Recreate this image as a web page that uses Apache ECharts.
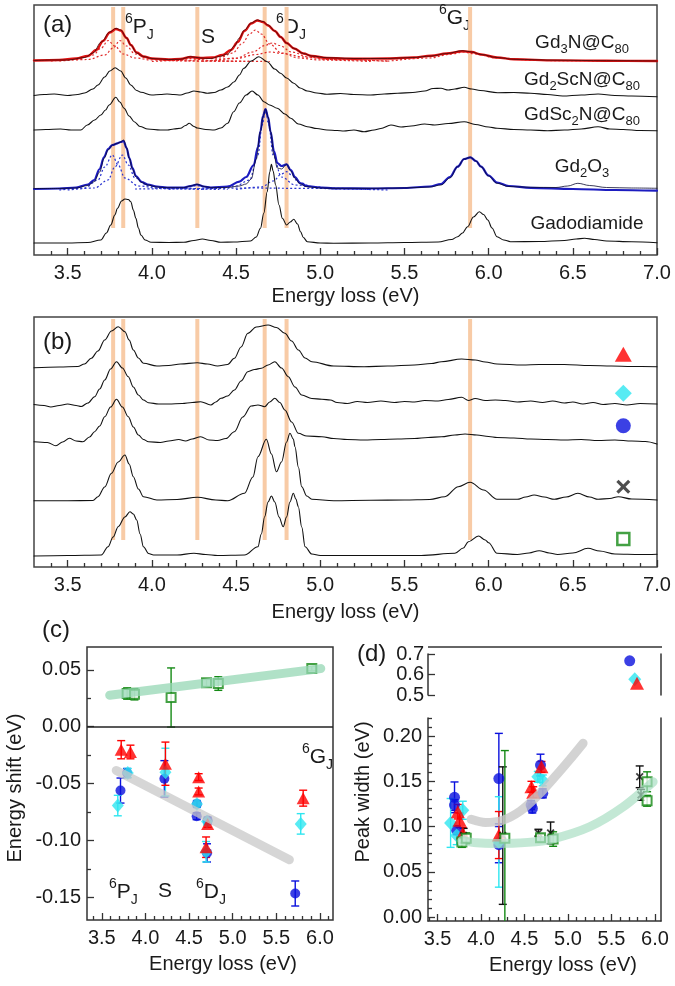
<!DOCTYPE html>
<html><head><meta charset="utf-8">
<script src="https://cdn.jsdelivr.net/npm/echarts@6/dist/echarts.min.js"></script>
<style>html,body{margin:0;padding:0;background:#fff}#c{width:675px;height:986px}</style>
</head><body><div id="c"></div>
<script>
// ---------- DATA ----------
const transitionE = [3.77, 3.83, 4.27, 4.67, 4.80, 5.89];
const transitionSpan = [27, 248];

// Panel (a) spectra: [energy (eV), intensity (arb. units incl. offset)]
const a_Gd3N = [[3.30,194.5],[3.42,195],[3.50,195],[3.60,197.5],[3.65,202],[3.70,213],[3.75,223],[3.787,226.7],[3.815,225],[3.85,217],[3.875,210],[3.91,202],[3.95,198.5],[4.0,196.5],[4.1,195.5],[4.17,195.8],[4.23,198.3],[4.29,197],[4.35,196.5],[4.40,198.5],[4.45,201],[4.49,209],[4.52,217],[4.55,225],[4.59,232],[4.626,235],[4.66,233.5],[4.69,230],[4.73,224],[4.765,218],[4.80,212],[4.845,206.5],[4.90,201.5],[4.95,199],[5.04,197.3],[5.2,196.5],[5.4,196.5],[5.55,197.5],[5.66,199],[5.75,201.5],[5.846,204.3],[5.9,203],[5.955,200.5],[6.05,197.5],[6.15,195.7],[6.4,194.8],[6.7,194.3],[7.0,194]];
const a_Gd3N_fit = [[3.30,194.5],[3.45,195],[3.55,196.5],[3.62,199],[3.67,205],[3.71,214],[3.75,222.5],[3.787,226],[3.815,224.5],[3.85,217],[3.875,210],[3.91,202.5],[3.95,198.5],[4.0,196.5],[4.1,195.5],[4.17,196],[4.23,198],[4.29,197],[4.36,197.5],[4.42,200],[4.47,205],[4.51,213],[4.55,224],[4.59,231.5],[4.626,234.5],[4.66,233],[4.69,229.5],[4.73,224],[4.765,218],[4.80,212],[4.845,206.5],[4.90,201.5],[4.95,199],[5.04,197],[5.2,196.3],[5.4,196.5],[5.55,197.5],[5.66,199.2],[5.75,201.5],[5.846,203.8],[5.9,203],[5.955,200.5],[6.05,197.5],[6.15,195.7],[6.4,194.6],[6.7,194.2],[7.0,194]];
const a_Gd3N_c1 = [[3.40,194],[3.55,195.5],[3.65,200],[3.70,207],[3.74,214.5],[3.78,209],[3.83,201],[3.90,197],[4.0,195],[4.2,194],[4.6,193.5]];
const a_Gd3N_c2 = [[3.45,194],[3.62,195.5],[3.72,200],[3.77,207],[3.81,214.5],[3.85,209],[3.90,201],[3.97,197],[4.07,195],[4.3,194],[4.7,193.5]];
const a_Gd3N_c3 = [[4.0,193.5],[4.15,194.5],[4.24,196.5],[4.33,194.5],[4.5,193.5]];
const a_Gd3N_c4 = [[4.2,194],[4.4,197],[4.48,202],[4.54,212],[4.58,221],[4.615,225],[4.65,221],[4.70,211],[4.77,202],[4.87,197],[5.0,195],[5.3,193.5]];
const a_Gd3N_c5 = [[4.35,194],[4.5,197],[4.6,203],[4.67,209.5],[4.715,212],[4.76,209.5],[4.83,203],[4.93,198],[5.05,195.5],[5.4,194]];
const a_Gd3N_c6 = [[4.3,193.5],[4.5,196.5],[4.62,200.5],[4.70,203],[4.78,201.5],[4.9,198],[5.05,195.5],[5.4,193.8]];
const a_Gd3N_c7 = [[5.4,193.8],[5.65,197],[5.78,201],[5.85,203],[5.92,201],[6.05,197],[6.3,194.5],[7.0,193.5]];
const a_Gd2ScN = [[3.30,159.5],[3.36,160.5],[3.42,161],[3.50,159.5],[3.56,160.5],[3.60,162],[3.65,166],[3.68,170],[3.72,178],[3.75,184],[3.782,187.3],[3.815,184],[3.845,177],[3.875,170],[3.91,164.5],[3.935,162.7],[4.0,160],[4.05,160.5],[4.09,161],[4.13,160.5],[4.17,160],[4.21,162],[4.25,164],[4.29,163],[4.33,161.7],[4.37,162.5],[4.41,165],[4.45,168],[4.49,173.3],[4.52,180],[4.546,186.7],[4.59,194],[4.635,198.3],[4.685,193.3],[4.73,186],[4.764,181.7],[4.80,177],[4.843,171.7],[4.88,167],[4.923,164],[4.98,162],[5.04,160.7],[5.12,161.5],[5.2,160.5],[5.3,160],[5.38,161],[5.46,161.7],[5.55,162.5],[5.62,164],[5.67,166.5],[5.717,166.7],[5.76,165],[5.80,166],[5.855,167.7],[5.9,166],[5.95,164.5],[6.054,162.3],[6.15,162.5],[6.25,161.7],[6.35,160.5],[6.44,159],[6.55,160],[6.65,161],[6.75,159.5],[6.85,159],[7.0,158.3]];
const a_GdSc2N = [[3.30,125],[3.37,125.5],[3.458,126],[3.52,125],[3.578,125],[3.617,130],[3.66,135],[3.697,140],[3.725,145],[3.746,150],[3.786,157.7],[3.81,153],[3.835,146.7],[3.865,139],[3.895,133.3],[3.93,128.5],[3.975,126],[4.05,125],[4.093,125],[4.13,126],[4.17,126.7],[4.20,129.5],[4.222,131.7],[4.25,128.5],[4.27,127],[4.32,125.5],[4.37,125],[4.41,127],[4.45,131.7],[4.486,143.3],[4.52,152],[4.56,160],[4.595,164],[4.63,160],[4.665,153.3],[4.70,150],[4.745,146.7],[4.79,141],[4.825,136.7],[4.87,131],[4.923,128.3],[4.98,126.5],[5.04,125],[5.10,124.5],[5.14,124],[5.20,125],[5.26,123.3],[5.32,125],[5.36,126.5],[5.42,130],[5.48,128],[5.54,129],[5.62,131],[5.68,130],[5.76,131.5],[5.855,133.3],[5.92,130.5],[6.0,128],[6.05,126.7],[6.15,125.5],[6.25,125],[6.35,124.3],[6.45,125],[6.55,126],[6.65,128.3],[6.72,126],[6.8,125.5],[6.9,124.5],[7.0,124.3]];
const a_Gd2O3 = [[3.30,66.5],[3.45,66.5],[3.55,67],[3.62,69.5],[3.657,73.3],[3.69,83],[3.716,96.7],[3.74,105],[3.766,110],[3.796,111.7],[3.815,113],[3.832,115],[3.85,107],[3.866,96.7],[3.885,86],[3.905,78.3],[3.94,72.5],[3.975,70],[4.03,68],[4.09,67.3],[4.19,67.3],[4.23,69],[4.268,70.7],[4.31,68.5],[4.35,67.3],[4.45,67.5],[4.52,69],[4.56,71],[4.59,76],[4.62,96],[4.645,123.3],[4.66,138],[4.675,146],[4.69,138],[4.705,123.3],[4.725,100],[4.745,87],[4.77,86],[4.80,90.7],[4.825,84],[4.85,76.7],[4.88,71],[4.92,68.3],[5.0,67],[5.08,66.7],[5.3,66.7],[5.5,67],[5.65,68],[5.717,70],[5.77,77],[5.816,88.3],[5.855,96],[5.891,97.7],[5.925,94],[5.955,88.3],[6.0,79],[6.05,71.7],[6.12,68.5],[6.25,67.7],[6.40,67.5],[6.47,69],[6.53,71.7],[6.60,69.5],[6.70,67.5],[6.85,67],[7.0,66.7]];
const a_Gd2O3_fit = [[3.30,66],[3.45,66.5],[3.55,67.5],[3.62,70.5],[3.657,75],[3.69,86],[3.716,98],[3.74,106],[3.766,110],[3.796,111.7],[3.815,113],[3.832,114],[3.85,107],[3.866,97],[3.885,87],[3.905,79],[3.94,73],[3.975,70.5],[4.03,68.5],[4.09,67.5],[4.19,67.5],[4.23,69],[4.268,70.5],[4.31,68.5],[4.35,67.5],[4.45,68.5],[4.52,73.3],[4.56,78],[4.605,90],[4.63,108],[4.645,124],[4.66,139],[4.675,146],[4.69,138],[4.705,123.3],[4.725,104],[4.745,92],[4.77,89],[4.80,90.7],[4.825,85],[4.85,78],[4.88,72],[4.92,69],[5.0,67.5],[5.08,66.7],[5.3,66.5],[5.5,67],[5.65,68.5],[5.717,71],[5.77,78],[5.816,88.3],[5.855,96],[5.891,97.7],[5.925,94],[5.955,88.3],[6.0,79.5],[6.05,72.5],[6.12,69],[6.25,67.2],[6.5,66],[6.75,65],[7.0,64.3]];
const a_Gd2O3_c1 = [[3.45,65],[3.6,67],[3.68,75],[3.72,88],[3.765,100],[3.80,90],[3.84,77],[3.92,69],[4.05,66.5],[4.3,65.5]];
const a_Gd2O3_c2 = [[3.5,65],[3.66,67],[3.74,75],[3.78,88],[3.825,100],[3.86,90],[3.90,77],[3.98,69],[4.1,66.5],[4.4,65.5]];
const a_Gd2O3_c3 = [[4.1,65.5],[4.2,67],[4.268,69.5],[4.33,67],[4.45,65.5]];
const a_Gd2O3_c4 = [[4.3,65.5],[4.5,69],[4.58,75],[4.63,100],[4.655,130],[4.675,144],[4.695,130],[4.72,100],[4.77,78],[4.85,70],[5.0,67],[5.3,65.5]];
const a_Gd2O3_c5 = [[4.5,65.5],[4.65,68],[4.72,74],[4.77,81],[4.80,83.3],[4.83,80],[4.87,73],[4.95,68.5],[5.1,66],[5.4,65]];
const a_Gd2O3_c6 = [[3.9,66],[4.3,66.5],[4.6,67],[4.9,66.6],[5.12,66.3]];
const a_Gadodiamide = [[3.30,12],[3.50,12],[3.62,12.5],[3.697,15],[3.73,22],[3.756,30],[3.78,40],[3.796,46.7],[3.82,54],[3.84,56],[3.86,55.5],[3.875,53.3],[3.89,45],[3.905,36.7],[3.92,27],[3.935,20],[3.96,15],[3.995,12.7],[4.1,12.5],[4.19,12.7],[4.25,14.5],[4.30,16],[4.35,14.5],[4.41,12.7],[4.486,13],[4.586,14],[4.62,18],[4.645,26.7],[4.665,42],[4.685,63.3],[4.70,83],[4.71,90.7],[4.72,84],[4.735,70],[4.755,50],[4.775,36.7],[4.80,30],[4.822,33],[4.843,35.7],[4.865,31],[4.883,23.3],[4.90,17.5],[4.923,13.3],[5.0,12],[5.08,11.7],[5.3,12],[5.5,12.5],[5.7,13],[5.78,15.5],[5.816,18.3],[5.845,22],[5.875,28.3],[5.91,38],[5.945,43.3],[5.97,40.5],[5.995,35],[6.02,27],[6.05,18.3],[6.09,15],[6.13,13.3],[6.3,13.5],[6.45,14.5],[6.52,16],[6.57,16.7],[6.63,15.5],[6.7,14],[6.85,13.3],[7.0,12.3]];

// Panel (b) spectra
const b_tri = [[3.30,199.3],[3.45,200],[3.56,200.5],[3.60,203],[3.64,208.7],[3.68,216],[3.72,227],[3.76,236],[3.80,240.3],[3.84,235.3],[3.865,227],[3.89,217],[3.92,209],[3.95,203.7],[4.03,201],[4.10,201.5],[4.17,203],[4.27,204.3],[4.33,203],[4.39,201],[4.45,202.5],[4.49,208.7],[4.53,220],[4.57,233.7],[4.62,240],[4.69,242],[4.74,239.5],[4.79,233.7],[4.83,226],[4.87,217],[4.91,209],[4.95,205.3],[5.08,201],[5.26,200.3],[5.4,201],[5.56,202],[5.66,203.5],[5.72,205.3],[5.84,208],[5.92,207],[5.98,205],[6.05,203],[6.2,202],[6.3,202.5],[6.45,202.5],[6.6,201.5],[6.73,201],[6.85,200.5],[7.0,200.3]];
const b_dia = [[3.30,162.5],[3.36,161.5],[3.40,160],[3.45,161.5],[3.50,163],[3.55,161.5],[3.58,160.5],[3.62,164],[3.66,170.3],[3.69,178],[3.72,187],[3.755,198],[3.79,205.3],[3.825,199],[3.86,190.3],[3.89,180],[3.92,172],[3.95,167],[3.98,164.3],[4.04,163],[4.10,163],[4.18,163.5],[4.24,164.5],[4.29,165.3],[4.35,162],[4.38,165],[4.41,168.7],[4.45,171],[4.49,177],[4.53,186],[4.57,195.3],[4.61,197.5],[4.65,198.7],[4.69,202],[4.73,205.3],[4.77,199],[4.81,190.3],[4.85,180],[4.89,172],[4.95,168.5],[5.01,167.7],[5.06,167],[5.10,164.5],[5.16,163.5],[5.22,165.5],[5.28,164.5],[5.36,166],[5.44,164.5],[5.5,165.5],[5.56,165],[5.62,166.5],[5.7,166],[5.76,167.5],[5.84,169.7],[5.88,166.5],[5.92,168.5],[5.98,166.5],[6.04,167],[6.1,166.5],[6.17,165],[6.25,166],[6.32,164.5],[6.38,166],[6.45,164],[6.5,165],[6.56,163],[6.62,164.5],[6.68,162.5],[6.75,163.5],[6.82,162],[6.9,163.5],[7.0,163]];
const b_cir = [[3.30,125.3],[3.38,124.5],[3.43,121.3],[3.47,125],[3.51,128.7],[3.55,126],[3.59,125.3],[3.63,130],[3.66,135.3],[3.69,141],[3.72,150.3],[3.755,160],[3.79,167.7],[3.825,160],[3.86,150.3],[3.89,140],[3.92,132],[3.95,127.5],[3.98,125.3],[4.05,124.5],[4.1,126],[4.16,127.5],[4.2,126],[4.24,128],[4.29,130.3],[4.34,127],[4.39,126.5],[4.44,128.5],[4.49,135.3],[4.54,150],[4.59,161],[4.63,162],[4.67,160.3],[4.70,165],[4.73,168.7],[4.76,164.5],[4.79,157],[4.83,145],[4.87,133.7],[4.92,131],[5.01,130.3],[5.08,128.5],[5.16,127.5],[5.26,127],[5.36,127.5],[5.46,128],[5.56,128.5],[5.64,129.5],[5.72,130.3],[5.80,132],[5.86,133],[5.93,132],[6.0,130.5],[6.05,129.5],[6.15,129],[6.25,128],[6.35,127.5],[6.45,127],[6.55,127.5],[6.65,126.5],[6.75,127],[6.85,126],[6.93,125.5],[7.0,123]];
const b_x = [[3.30,66.3],[3.50,66.3],[3.65,66.5],[3.68,70.3],[3.72,80],[3.76,93.7],[3.80,105],[3.84,112],[3.865,103],[3.89,90.3],[3.92,78],[3.95,70.3],[4.03,67],[4.15,67.5],[4.27,69.7],[4.38,67],[4.45,66.3],[4.55,73.7],[4.60,90],[4.63,110.3],[4.68,127.7],[4.71,113],[4.74,95.3],[4.77,105],[4.80,125],[4.82,133.7],[4.84,128],[4.85,120.3],[4.87,100],[4.89,80.3],[4.92,71],[4.95,67.7],[5.08,66.3],[5.3,66.7],[5.5,67],[5.65,67.5],[5.74,70.3],[5.82,80.3],[5.89,84.7],[5.97,77],[6.05,67.7],[6.17,67.7],[6.22,70],[6.27,72],[6.33,70],[6.39,67.7],[6.46,70],[6.53,73.7],[6.6,70],[6.65,67.7],[6.72,68.5],[6.77,70.3],[6.85,68],[7.0,67]];
const b_sq = [[3.30,11],[3.50,11.5],[3.70,12],[3.74,20.3],[3.77,30],[3.80,40.3],[3.84,50],[3.87,55.3],[3.89,53],[3.91,47],[3.93,33],[3.95,20.3],[3.98,13.5],[4.01,12],[4.15,12],[4.25,13.7],[4.32,12.5],[4.39,11.5],[4.55,12],[4.63,20.3],[4.65,33],[4.67,50.3],[4.69,65],[4.71,71],[4.73,65],[4.755,50],[4.78,40.3],[4.80,50],[4.82,65],[4.84,73.7],[4.855,68],[4.87,60.3],[4.89,40],[4.91,20.3],[4.95,13],[5.0,11.5],[5.3,11.5],[5.6,11.5],[5.8,13.7],[5.85,19],[5.88,25.3],[5.94,31],[5.98,27],[6.0,24.3],[6.05,13.7],[6.17,12.5],[6.24,14],[6.30,16.3],[6.36,14],[6.41,12.5],[6.5,14],[6.59,18.7],[6.66,16],[6.75,13],[6.9,12.5],[7.0,12.8]];
const keyE = 6.8;
const keyLevels = [212.7, 173.7, 141.3, 80.3, 28];

// Panel (c) energy shift
const c_triE = [3.722, 3.828, 4.229, 4.61, 4.61, 4.713, 4.695, 5.808];
const c_triV = [-0.0203, -0.0223, -0.0326, -0.0444, -0.057, -0.0855, -0.106, -0.0629];
const c_triErr = [0.008, 0.006, 0.019, 0.003, 0.003, 0.003, 0.009, 0.007];
const c_diaE = [3.683, 3.797, 4.229, 4.59, 4.706, 4.695, 5.78];
const c_diaV = [-0.0694, -0.0408, -0.040, -0.068, -0.0835, -0.11, -0.0855];
const c_diaErr = [0.009, 0.004, 0.021, 0.003, 0.003, 0.009, 0.009];
const c_cirE = [3.714, 3.79, 4.217, 4.587, 4.59, 4.713, 4.706, 5.717];
const c_cirV = [-0.0562, -0.0408, -0.0459, -0.0788, -0.068, -0.0826, -0.111, -0.1467];
const c_cirErr = [0.011, 0.004, 0.016, 0.003, 0.003, 0.003, 0.008, 0.011];
const c_sqE = [3.79, 3.874, 4.294, 4.70, 4.835, 5.907];
const c_sqV = [0.0291, 0.0285, 0.0256, 0.0385, 0.0379, 0.0511];
const c_sqErr = [0.005, 0.005, 0.026, 0.003, 0.006, 0.002];
const c_greenTrend = [[3.59, 0.0276], [6.01, 0.051]];
const c_greyTrend = [[3.665, -0.0385], [5.65, -0.117]];

// Panel (d) peak width
const d_cirE = [3.695, 3.695, 3.72, 4.205, 4.205, 4.576, 4.59, 4.684, 4.71];
const d_cirV = [0.1323, 0.1238, 0.096, 0.153, 0.080, 0.1238, 0.120, 0.168, 0.1367];
const d_cirErr = [0.017, 0.006, 0.005, 0.05, 0.02, 0.005, 0.005, 0.012, 0.005];
const d_diaE = [3.65, 3.79, 3.72, 4.205, 4.653, 4.71];
const d_diaV = [0.104, 0.118, 0.09, 0.083, 0.155, 0.151];
const d_diaErr = [0.027, 0.01, 0.01, 0.05, 0.006, 0.006];
const d_triE = [3.733, 3.753, 3.79, 4.205, 4.58, 4.60, 4.695];
const d_triV = [0.1164, 0.107, 0.093, 0.0906, 0.144, 0.138, 0.166];
const d_triErr = [0.008, 0.008, 0.006, 0.026, 0.006, 0.006, 0.006];
const d_xE = [3.80, 4.25, 4.66, 4.80, 5.825, 5.84];
const d_xV = [0.09, 0.09, 0.093, 0.093, 0.155, 0.135];
const d_xErr = [0.008, 0.076, 0.004, 0.012, 0.012, 0.006];
const d_sqE = [3.78, 3.83, 4.274, 4.684, 4.829, 5.91, 5.91];
const d_sqV = [0.083, 0.087, 0.087, 0.0876, 0.0862, 0.1495, 0.1285];
const d_sqErr = [0.006, 0.006, 0.097, 0.004, 0.008, 0.011, 0.006];
const d_upperE = [5.71, 5.768, 5.794];   // circle, diamond, triangle
const d_upperV = [0.667, 0.577, 0.557];
const d_greyTrend = [[3.886,0.108],[4.05,0.1045],[4.25,0.107],[4.45,0.117],[4.65,0.134],[4.85,0.155],[5.02,0.174],[5.174,0.192]];
const d_greenTrend = [[3.78,0.0845],[3.95,0.082],[4.155,0.0812],[4.54,0.0825],[4.83,0.0865],[5.25,0.0998],[5.63,0.1215],[5.98,0.1495]];

// Tick labels
const ticksAB = [3.5,4.0,4.5,5.0,5.5,6.0,6.5,7.0];
const ticksCD_x = [3.5,4.0,4.5,5.0,5.5,6.0];
const ticksC_y = [-0.15,-0.10,-0.05,0.00,0.05];
const ticksD_y = [0.00,0.05,0.10,0.15,0.20];
const ticksD_yUp = [0.5,0.6,0.7];

// ---------- STYLE / HELPERS ----------
const FONT = 'Liberation Sans, Arial, Helvetica, sans-serif';
const AX = '#333';
const TXT = '#1a1a1a';
const ORANGE = '#f8cba6';
const RED = '#ff0000', CYAN = '#2ee6f0', BLUE = '#0a10dd', GREEN = '#158a15', BLACK = '#111';
const CROSS = 'path://M0,1.6L1.6,0L5,3.4L8.4,0L10,1.6L6.6,5L10,8.4L8.4,10L5,6.6L1.6,10L0,8.4L3.4,5Z';

function steps(a, b, s, skip) {
  const out = [];
  for (let v = a; v <= b + 1e-9; v += s) {
    const r = Math.round(v * 1000) / 1000;
    if (!skip || !skip.some(k => Math.abs(k - r) < 1e-6)) out.push(r);
  }
  return out;
}
function valAxis(grid, min, max, o) {
  o = o || {};
  return {
    type: 'value', gridIndex: grid, min, max, position: o.position,
    show: o.show !== false,
    name: o.name || '', nameLocation: 'middle', nameGap: o.nameGap || 30,
    nameTextStyle: { fontFamily: FONT, fontSize: 20, color: TXT, padding: o.namePad || 0 },
    axisLine: { show: !!o.line, onZero: false, lineStyle: { color: AX, width: 1.5 } },
    axisTick: o.ticks ? { show: true, inside: true, length: o.tickLen || 7, customValues: o.ticks, lineStyle: { color: AX, width: 1.3 } } : { show: false },
    axisLabel: o.labels ? { show: true, customValues: o.labels, formatter: v => v.toFixed(o.dec), fontFamily: FONT, fontSize: 20, color: TXT, margin: o.margin || 8 } : { show: false },
    splitLine: { show: false }
  };
}
function ln(data, xi, yi, color, width, extra) {
  return Object.assign({
    type: 'line', xAxisIndex: xi, yAxisIndex: yi, data, showSymbol: false, symbol: 'none',
    smooth: 0.35, smoothMonotone: 'x', silent: true, animation: false,
    lineStyle: { color, width, join: 'round', cap: 'round' }
  }, extra || {});
}
function dotted(data, xi, yi, color) {
  return ln(data, xi, yi, color, 1.2, { lineStyle: { color, width: 1.2, type: [2, 2.2] } });
}
function errBars(E, V, Err, xi, yi, color) {
  return {
    type: 'custom', xAxisIndex: xi, yAxisIndex: yi, silent: true, animation: false,
    data: E.map((e, i) => [e, V[i], V[i] - Err[i], V[i] + Err[i]]),
    encode: { x: 0, y: 1 },
    renderItem: (params, api) => {
      const cs = params.coordSys;
      const p0 = api.coord([api.value(0), api.value(2)]);
      const p1 = api.coord([api.value(0), api.value(3)]);
      const x = p0[0];
      let yb = p0[1], yt = p1[1];
      const capB = yb <= cs.y + cs.height, capT = yt >= cs.y;
      yb = Math.min(yb, cs.y + cs.height); yt = Math.max(yt, cs.y);
      const st = { stroke: color, lineWidth: 1.4 };
      const ch = [{ type: 'line', shape: { x1: x, y1: yt, x2: x, y2: yb }, style: st }];
      if (capT) ch.push({ type: 'line', shape: { x1: x - 4, y1: yt, x2: x + 4, y2: yt }, style: st });
      if (capB) ch.push({ type: 'line', shape: { x1: x - 4, y1: yb, x2: x + 4, y2: yb }, style: st });
      return { type: 'group', children: ch };
    }
  };
}
function pts(E, V, xi, yi, symbol, size, style) {
  return {
    type: 'scatter', xAxisIndex: xi, yAxisIndex: yi, silent: true, animation: false,
    data: E.map((e, i) => [e, V[i]]), symbol, symbolSize: size, itemStyle: style
  };
}
function band(data, xi, yi, color, smooth) {
  return ln(data, xi, yi, color, 9, { smooth: smooth ? 0.3 : false, smoothMonotone: null, lineStyle: { color, width: 9, cap: 'round', join: 'round' } });
}

// ---------- AXES ----------
const minorAB = steps(3.4, 7.0, 0.1, ticksAB);
const xAxes = [
  valAxis(0, 3.3, 7.0, { position: 'bottom', ticks: ticksAB, labels: ticksAB, dec: 1, name: 'Energy loss (eV)', nameGap: 31 }),
  valAxis(0, 3.3, 7.0, { position: 'bottom', ticks: minorAB, tickLen: 4 }),
  valAxis(1, 3.3, 7.0, { position: 'bottom', ticks: ticksAB, labels: ticksAB, dec: 1, name: 'Energy loss (eV)', nameGap: 35 }),
  valAxis(1, 3.3, 7.0, { position: 'bottom', ticks: minorAB, tickLen: 4 }),
  valAxis(2, 3.33, 6.15, { position: 'bottom', ticks: ticksCD_x, labels: ticksCD_x, dec: 1, name: 'Energy loss (eV)', nameGap: 34, namePad: [0, 0, 0, 26] }),
  valAxis(2, 3.33, 6.15, { position: 'bottom', ticks: steps(3.4, 6.1, 0.1, ticksCD_x), tickLen: 4 }),
  valAxis(3, 3.39, 6.07, { position: 'bottom', line: true, ticks: ticksCD_x, labels: ticksCD_x, dec: 1, name: 'Energy loss (eV)', nameGap: 34, namePad: [0, 0, 0, 37] }),
  valAxis(3, 3.39, 6.07, { position: 'bottom', ticks: steps(3.4, 6.0, 0.1, ticksCD_x), tickLen: 4 }),
  valAxis(4, 3.39, 6.07, { position: 'bottom', show: false })
];
const yAxes = [
  valAxis(0, 0, 250, { position: 'left', show: false }),
  valAxis(1, 0, 250, { position: 'left', show: false }),
  valAxis(2, -0.17, 0.07, { position: 'left', ticks: ticksC_y, labels: ticksC_y, dec: 2, margin: 6 }),
  valAxis(2, -0.17, 0.07, { position: 'left', ticks: [-0.125, -0.075, -0.025, 0.025], tickLen: 4 }),
  valAxis(3, -0.0044, 0.22, { position: 'left', line: true, ticks: ticksD_y, labels: ticksD_y, dec: 2, margin: 6 }),
  valAxis(3, -0.0044, 0.22, { position: 'left', ticks: steps(0.01, 0.22, 0.01, ticksD_y), tickLen: 4 }),
  valAxis(3, -0.0044, 0.22, { line: true, position: 'right' }),
  valAxis(4, 0.5, 0.7, { position: 'left', line: true, ticks: ticksD_yUp, labels: ticksD_yUp, dec: 1, margin: 4 }),
  valAxis(4, 0.5, 0.7, { line: true, position: 'right' })
];

// ---------- SERIES ----------
const series = [];
transitionE.forEach(e => {
  [[0, 0], [2, 1]].forEach(([xi, yi]) => {
    series.push(ln([[e, transitionSpan[0]], [e, transitionSpan[1]]], xi, yi, ORANGE, 4, { smooth: false, lineStyle: { color: ORANGE, width: 4, cap: 'butt' } }));
  });
});
// (a)
[a_Gd3N_c1, a_Gd3N_c2, a_Gd3N_c3, a_Gd3N_c4, a_Gd3N_c5, a_Gd3N_c6, a_Gd3N_c7].forEach(d => series.push(dotted(d, 0, 0, '#e02a2a')));
series.push(ln(a_Gd3N_fit, 0, 0, '#e01212', 2.4));
series.push(ln(a_Gd3N, 0, 0, '#3a0a0a', 0.8));
series.push(ln(a_Gd2ScN, 0, 0, BLACK, 1.1));
series.push(ln(a_GdSc2N, 0, 0, BLACK, 1.1));
[a_Gd2O3_c1, a_Gd2O3_c2, a_Gd2O3_c3, a_Gd2O3_c4, a_Gd2O3_c5, a_Gd2O3_c6].forEach(d => series.push(dotted(d, 0, 0, '#2b35d0')));
series.push(ln(a_Gd2O3_fit, 0, 0, '#1c1cc0', 2.2));
series.push(ln(a_Gd2O3, 0, 0, '#0a0a30', 0.8));
series.push(ln(a_Gadodiamide, 0, 0, BLACK, 1.1));
// (b)
[b_tri, b_dia, b_cir, b_x, b_sq].forEach(d => series.push(ln(d, 2, 1, BLACK, 1.1)));
series.push(pts([keyE], [keyLevels[0]], 2, 1, 'triangle', [17, 15], { color: RED }));
series.push(pts([keyE], [keyLevels[1]], 2, 1, 'diamond', [17, 17], { color: CYAN }));
series.push(pts([keyE], [keyLevels[2]], 2, 1, 'circle', 15, { color: BLUE }));
series.push(pts([keyE], [keyLevels[3]], 2, 1, CROSS, 14, { color: '#222' }));
series.push(pts([keyE], [keyLevels[4]], 2, 1, 'rect', 12, { color: '#fff', borderColor: GREEN, borderWidth: 2.5 }));
// (c)
series.push(Object.assign(band(c_greenTrend, 4, 2, 'rgba(150,215,180,0.75)'), {
  markLine: { silent: true, symbol: 'none', animation: false, label: { show: false }, data: [{ yAxis: 0 }], lineStyle: { color: '#222', width: 1.5, type: 'solid' } }
}));
series.push(band(c_greyTrend, 4, 2, 'rgba(200,200,200,0.75)'));
series.push(errBars(c_cirE, c_cirV, c_cirErr, 4, 2, BLUE));
series.push(pts(c_cirE, c_cirV, 4, 2, 'circle', 10, { color: BLUE }));
series.push(errBars(c_diaE, c_diaV, c_diaErr, 4, 2, CYAN));
series.push(pts(c_diaE, c_diaV, 4, 2, 'diamond', [12, 14], { color: CYAN }));
series.push(errBars(c_triE, c_triV, c_triErr, 4, 2, RED));
series.push(pts(c_triE, c_triV, 4, 2, 'triangle', [13, 12], { color: RED }));
series.push(errBars(c_sqE, c_sqV, c_sqErr, 4, 2, GREEN));
series.push(pts(c_sqE, c_sqV, 4, 2, 'rect', 9, { color: '#fff', borderColor: GREEN, borderWidth: 2 }));
// (d)
series.push(band(d_greenTrend, 6, 4, 'rgba(170,222,195,0.7)', true));
series.push(band(d_greyTrend, 6, 4, 'rgba(200,200,200,0.8)', true));
series.push(errBars(d_cirE, d_cirV, d_cirErr, 6, 4, BLUE));
series.push(pts(d_cirE, d_cirV, 6, 4, 'circle', 11, { color: BLUE }));
series.push(errBars(d_diaE, d_diaV, d_diaErr, 6, 4, CYAN));
series.push(pts(d_diaE, d_diaV, 6, 4, 'diamond', [13, 14], { color: CYAN }));
series.push(errBars(d_triE, d_triV, d_triErr, 6, 4, RED));
series.push(pts(d_triE, d_triV, 6, 4, 'triangle', [14, 13], { color: RED }));
series.push(errBars(d_xE, d_xV, d_xErr, 6, 4, BLACK));
series.push(pts(d_xE, d_xV, 6, 4, CROSS, 8, { color: BLACK }));
series.push(errBars(d_sqE, d_sqV, d_sqErr, 6, 4, GREEN));
series.push(pts(d_sqE, d_sqV, 6, 4, 'rect', 9, { color: '#fff', borderColor: GREEN, borderWidth: 2 }));
series.push(pts([d_upperE[0]], [d_upperV[0]], 8, 7, 'circle', 11, { color: BLUE }));
series.push(pts([d_upperE[1]], [d_upperV[1]], 8, 7, 'diamond', [13, 14], { color: CYAN }));
series.push(pts([d_upperE[2]], [d_upperV[2]], 8, 7, 'triangle', [14, 13], { color: RED }));

// ---------- TEXT ----------
function txt(x, y, text, size, align, extra) {
  return Object.assign({ type: 'text', x, y, silent: true, style: { text, font: size + 'px ' + FONT, fill: TXT, align: align || 'left', textAlign: align || 'left', verticalAlign: 'middle', textVerticalAlign: 'middle' } }, extra || {});
}
function term(x, y, letter) {
  return { type: 'text', x, y, silent: true, style: {
    text: '{sup|6}{m|' + letter + '}{sub|J}', font: '20px ' + FONT, fill: TXT, align: 'left', verticalAlign: 'middle',
    rich: { sup: { fontSize: 14, fontFamily: FONT, verticalAlign: 'top', fill: TXT }, m: { fontSize: 21, fontFamily: FONT, lineHeight: 30, verticalAlign: 'middle', fill: TXT }, sub: { fontSize: 14, fontFamily: FONT, verticalAlign: 'bottom', fill: TXT } }
  } };
}
function compound(x, y, text) {
  return { type: 'text', x, y, silent: true, style: {
    text, font: '19px ' + FONT, fill: TXT, align: 'center', verticalAlign: 'middle',
    rich: { m: { fontSize: 19, fontFamily: FONT, lineHeight: 26, verticalAlign: 'middle', fill: TXT }, sub: { fontSize: 13, fontFamily: FONT, verticalAlign: 'bottom', fill: TXT } }
  } };
}
const graphics = [
  txt(43, 25, '(a)', 24), txt(43, 342, '(b)', 24), txt(42, 630, '(c)', 24), txt(357, 654, '(d)', 24),
  term(125, 27, 'P'), txt(208, 37, 'S', 21, 'center'), term(276, 27, 'D'), term(439, 18, 'G'),
  compound(582, 43, '{m|Gd}{sub|3}{m|N@C}{sub|80}'),
  compound(582, 80, '{m|Gd}{sub|2}{m|ScN@C}{sub|80}'),
  compound(582, 115, '{m|GdSc}{sub|2}{m|N@C}{sub|80}'),
  compound(582, 167, '{m|Gd}{sub|2}{m|O}{sub|3}'),
  compound(587, 224, '{m|Gadodiamide}'),
  term(109, 892, 'P'), txt(165, 891, 'S', 21, 'center'), term(196, 892, 'D'), term(302, 757, 'G'),
  txt(15, 788, 'Energy shift (eV)', 20, 'center', { rotation: Math.PI / 2 }),
  txt(363, 792, 'Peak width (eV)', 20, 'center', { rotation: Math.PI / 2 }),
  { type: 'line', silent: true, shape: { x1: 428, y1: 647, x2: 662, y2: 647 }, style: { stroke: AX, lineWidth: 1.5 } }
];

const chart = echarts.init(document.getElementById('c'), null, { renderer: 'canvas' });
chart.setOption({
  animation: false,
  backgroundColor: '#fff',
  grid: [
    { left: 34, top: 5, width: 623, height: 250, show: true, borderColor: '#444', borderWidth: 1.5, backgroundColor: 'transparent' },
    { left: 34, top: 317, width: 623, height: 250, show: true, borderColor: '#444', borderWidth: 1.5, backgroundColor: 'transparent' },
    { left: 87, top: 647, width: 246, height: 273, show: true, borderColor: '#333', borderWidth: 1.5, backgroundColor: 'transparent' },
    { left: 428, top: 718, width: 233, height: 203 },
    { left: 428, top: 654, width: 233, height: 41 }
  ],
  xAxis: xAxes,
  yAxis: yAxes,
  series,
  graphic: { elements: graphics }
});
</script></body></html>
